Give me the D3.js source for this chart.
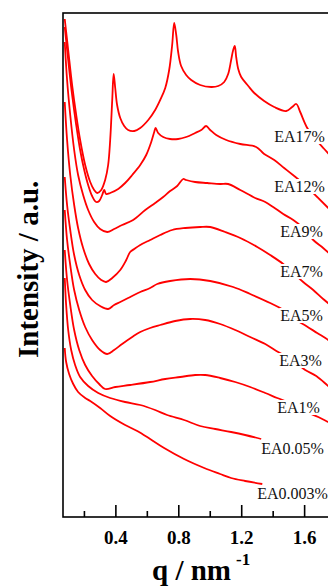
<!DOCTYPE html>
<html>
<head>
<meta charset="utf-8">
<script src="https://cdn.jsdelivr.net/npm/d3@7"></script>
<style>
  html, body { margin: 0; padding: 0; background: #fff; }
  svg { display: block; }
</style>
</head>
<body>
<svg width="328" height="586"></svg>
<script>
// sample names, top to bottom
const labels = ['EA17%', 'EA12%', 'EA9%', 'EA7%', 'EA5%', 'EA3%', 'EA1%', 'EA0.05%', 'EA0.003%'];

// each series: [q (nm^-1), intensity (a.u., stacked)]
const ea17 = [[0.078,49.8],[0.100,46.7],[0.125,43.2],[0.151,40.2],[0.176,37.7],[0.208,35.2],[0.240,33.5],[0.265,32.7],[0.284,32.4],[0.310,32.7],[0.335,33.7],[0.354,35.2],[0.367,37.7],[0.380,41.7],[0.389,44.3],[0.399,42.9],[0.411,41.2],[0.431,39.9],[0.456,39.1],[0.481,38.7],[0.520,38.6],[0.558,38.9],[0.609,39.7],[0.653,40.7],[0.685,41.7],[0.717,42.9],[0.742,44.7],[0.761,47.2],[0.774,49.4],[0.787,48.2],[0.799,46.5],[0.818,45.1],[0.850,44.2],[0.882,43.7],[0.939,43.2],[1.009,43.0],[1.054,43.1],[1.092,43.5],[1.117,44.3],[1.136,45.7],[1.149,46.7],[1.159,47.1],[1.168,46.0],[1.181,44.8],[1.200,44.0],[1.245,43.1],[1.283,42.4],[1.346,41.6],[1.410,41.0],[1.486,40.6],[1.524,41.0],[1.550,41.3],[1.575,40.5],[1.620,38.9],[1.677,37.7],[1.728,36.8],[1.791,35.7]];
const ea12 = [[0.078,49.0],[0.100,45.7],[0.125,42.2],[0.151,39.2],[0.176,36.7],[0.202,34.7],[0.227,33.2],[0.252,32.1],[0.278,31.5],[0.297,31.6],[0.316,32.2],[0.329,32.7],[0.341,32.3],[0.367,32.4],[0.418,32.8],[0.462,33.4],[0.507,34.2],[0.558,35.2],[0.596,36.2],[0.628,37.5],[0.647,38.5],[0.656,38.9],[0.672,38.4],[0.704,38.0],[0.748,37.8],[0.799,37.8],[0.850,38.0],[0.907,38.4],[0.946,38.7],[0.977,39.1],[1.003,38.7],[1.041,38.2],[1.105,37.7],[1.194,37.3],[1.295,37.0],[1.346,36.3],[1.410,35.7],[1.473,34.9],[1.537,34.1],[1.607,33.2],[1.683,32.0],[1.747,31.0],[1.791,30.3]];
const ea9 = [[0.078,47.5],[0.093,43.7],[0.113,40.2],[0.138,36.7],[0.163,34.2],[0.195,32.2],[0.227,30.7],[0.265,29.5],[0.303,28.8],[0.348,28.5],[0.392,28.8],[0.443,29.2],[0.513,29.7],[0.590,30.7],[0.653,31.4],[0.704,32.0],[0.748,32.6],[0.793,33.1],[0.831,33.8],[0.850,33.7],[0.907,33.5],[0.984,33.4],[1.066,33.3],[1.117,33.3],[1.194,32.7],[1.289,31.9],[1.353,31.5],[1.403,31.0],[1.467,30.3],[1.531,29.7],[1.594,28.9],[1.658,27.7],[1.721,26.9],[1.791,25.9]];
const ea7 = [[0.078,41.5],[0.093,37.7],[0.113,34.2],[0.138,31.2],[0.163,28.9],[0.195,26.9],[0.233,25.3],[0.272,24.3],[0.310,23.7],[0.341,23.5],[0.380,23.9],[0.431,24.7],[0.469,25.7],[0.494,26.5],[0.520,26.8],[0.558,27.2],[0.621,27.7],[0.685,28.2],[0.761,28.7],[0.844,28.9],[0.939,29.0],[1.003,29.0],[1.098,28.5],[1.194,27.9],[1.302,27.0],[1.384,26.2],[1.467,25.3],[1.531,24.4],[1.594,23.5],[1.658,22.7],[1.721,21.8],[1.791,20.9]];
const ea5 = [[0.078,34.0],[0.093,31.2],[0.113,28.7],[0.138,26.2],[0.170,24.2],[0.208,22.7],[0.252,21.7],[0.303,21.1],[0.354,20.8],[0.392,21.2],[0.431,21.5],[0.481,21.9],[0.558,22.5],[0.621,22.9],[0.666,23.3],[0.748,23.6],[0.876,23.8],[1.003,23.6],[1.149,23.0],[1.257,22.3],[1.384,21.4],[1.480,20.6],[1.550,19.7],[1.613,19.1],[1.683,18.4],[1.753,17.7],[1.791,17.2]];
const ea3 = [[0.078,30.7],[0.093,27.7],[0.113,25.2],[0.138,22.7],[0.170,20.7],[0.208,19.0],[0.252,17.7],[0.303,16.7],[0.348,16.3],[0.392,16.7],[0.443,17.3],[0.507,18.0],[0.558,18.5],[0.621,18.9],[0.685,19.2],[0.780,19.6],[0.876,19.8],[0.971,19.7],[1.066,19.3],[1.162,18.7],[1.257,18.0],[1.353,17.3],[1.435,16.5],[1.524,15.7],[1.607,14.7],[1.677,14.1],[1.753,13.1],[1.791,12.6]];
const ea1 = [[0.078,26.7],[0.093,23.7],[0.113,21.2],[0.138,18.7],[0.170,16.7],[0.208,15.2],[0.252,14.1],[0.297,13.3],[0.335,12.8],[0.399,13.0],[0.494,13.2],[0.621,13.5],[0.717,13.8],[0.812,14.0],[0.907,14.2],[0.971,14.2],[1.066,13.9],[1.162,13.5],[1.257,13.0],[1.353,12.4],[1.429,11.9],[1.524,11.3],[1.588,10.7],[1.690,10.0],[1.753,9.5],[1.791,9.2]];
const ea005 = [[0.078,23.9],[0.087,21.2],[0.100,18.7],[0.119,16.7],[0.144,15.2],[0.176,14.0],[0.227,13.1],[0.291,12.4],[0.367,11.9],[0.462,11.5],[0.558,11.2],[0.653,10.7],[0.729,10.2],[0.837,9.7],[0.939,9.1],[1.035,8.8],[1.136,8.5],[1.225,8.2],[1.327,7.8]];
const ea0003 = [[0.078,16.9],[0.087,15.5],[0.106,14.3],[0.132,13.3],[0.163,12.5],[0.208,11.9],[0.240,11.6],[0.303,10.9],[0.367,10.1],[0.462,9.2],[0.539,8.6],[0.621,7.8],[0.710,6.9],[0.837,5.8],[0.965,4.9],[1.066,4.3],[1.136,3.9],[1.225,3.6],[1.334,3.3]];

const series = [ea17, ea12, ea9, ea7, ea5, ea3, ea1, ea005, ea0003];

// where each label sits, in data units
const labelQ = [1.410, 1.410, 1.448, 1.448, 1.448, 1.442, 1.429, 1.327, 1.302];
const labelI = [37.5, 32.5, 28.0, 24.0, 19.6, 15.1, 10.4, 6.3, 1.8];

const majorTicks = [0.4, 0.8, 1.2, 1.6];
const minorTicks = [0.2, 0.6, 1.0, 1.4, 1.8];

const svg = d3.select('svg');
const plotLeft = 63, plotTop = 13, plotBottom = 517, plotRight = 351;

const x = d3.scaleLinear().domain([0.067, 1.898]).range([plotLeft, plotRight]);
const y = d3.scaleLinear().domain([0, 50.4]).range([plotBottom, plotTop]);

svg.append('defs').append('clipPath').attr('id', 'plot')
  .append('rect')
    .attr('x', plotLeft).attr('y', plotTop)
    .attr('width', plotRight - plotLeft).attr('height', plotBottom - plotTop);

const line = d3.line()
    .x(d => x(d[0]))
    .y(d => y(d[1]))
    .curve(d3.curveCatmullRom.alpha(0.5));

svg.append('g')
    .attr('clip-path', 'url(#plot)')
  .selectAll('path')
  .data(series)
  .enter().append('path')
    .attr('d', line)
    .attr('fill', 'none')
    .attr('stroke', '#ff0000')
    .attr('stroke-width', 1.8)
    .attr('stroke-linejoin', 'round');

// labels, with a white box that breaks the curve behind them
const lab = svg.append('g').selectAll('g')
  .data(labels)
  .enter().append('g');

lab.append('text')
    .attr('x', (d, i) => x(labelQ[i]))
    .attr('y', (d, i) => y(labelI[i]))
    .attr('font-family', '"Liberation Serif", "Times New Roman", serif')
    .attr('font-size', 16)
    .attr('fill', '#111')
    .text(d => d);

lab.each(function() {
  const g = d3.select(this);
  const b = g.select('text').node().getBBox();
  g.insert('rect', 'text')
      .attr('x', b.x - 1).attr('y', b.y + 1)
      .attr('width', b.width + 2).attr('height', b.height - 2)
      .attr('fill', '#fff');
});

// frame
svg.append('rect')
    .attr('x', plotLeft).attr('y', plotTop)
    .attr('width', plotRight - plotLeft).attr('height', plotBottom - plotTop)
    .attr('fill', 'none')
    .attr('stroke', '#000')
    .attr('stroke-width', 1.6);

const xAxis = svg.append('g')
    .attr('transform', 'translate(0,' + plotBottom + ')')
    .call(d3.axisBottom(x).tickValues(majorTicks).tickSize(-12).tickSizeOuter(0).tickFormat(d3.format('.1f')));

svg.append('g')
    .attr('transform', 'translate(0,' + plotBottom + ')')
    .call(d3.axisBottom(x).tickValues(minorTicks).tickSize(-6).tickSizeOuter(0).tickFormat(''))
    .call(g => g.select('.domain').remove());

xAxis.select('.domain').remove();
svg.selectAll('.tick line').attr('stroke', '#000').attr('stroke-width', 1.6);
xAxis.selectAll('.tick text')
    .attr('y', 27).attr('dy', 0)
    .attr('font-family', '"Liberation Serif", "Times New Roman", serif')
    .attr('font-weight', 'bold')
    .attr('font-size', 19)
    .attr('fill', '#000');

// axis titles
const title = svg.append('g')
    .attr('font-family', '"Liberation Serif", "Times New Roman", serif')
    .attr('font-weight', 'bold')
    .attr('fill', '#000');

title.append('text')
    .attr('x', 152).attr('y', 580)
    .attr('font-size', 29)
    .text('q / nm');

title.append('text')
    .attr('x', 236).attr('y', 565)
    .attr('font-size', 17)
    .text('-1');

title.append('text')
    .attr('transform', 'translate(38,358) rotate(-90)')
    .attr('font-size', 29)
    .text('Intensity / a.u.');
</script>
</body>
</html>
